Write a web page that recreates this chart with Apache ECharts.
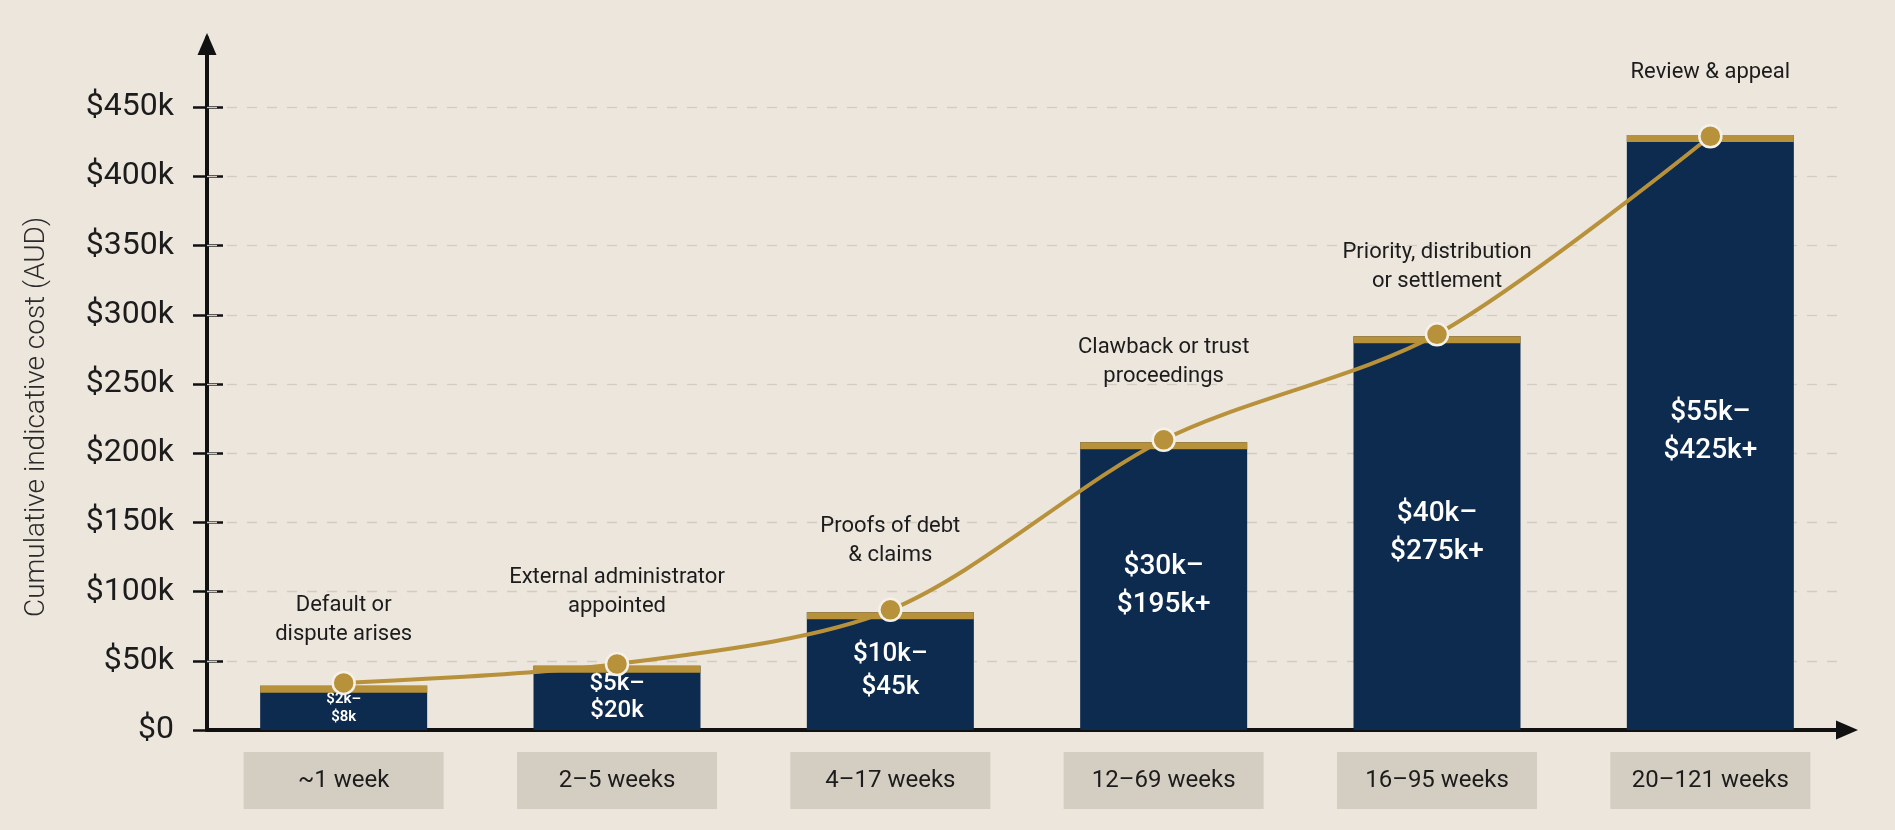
<!DOCTYPE html>
<html>
<head>
<meta charset="utf-8">
<script src="https://cdn.jsdelivr.net/npm/echarts@6/dist/echarts.min.js"></script>
<style>
  html, body { margin: 0; padding: 0; background: #ece6dd; }
  #chart { width: 1895px; height: 830px; }
</style>
</head>
<body>
<div id="chart"></div>
<script>
// ---- data ----
const categories = ['~1 week', '2–5 weeks', '4–17 weeks', '12–69 weeks', '16–95 weeks', '20–121 weeks'];
const stages = [
  'Default or\ndispute arises',
  'External administrator\nappointed',
  'Proofs of debt\n& claims',
  'Clawback or trust\nproceedings',
  'Priority, distribution\nor settlement',
  'Review & appeal'
];
const barValues = [32000, 46500, 85000, 208000, 284500, 430000];
const pointValues = [34000, 47700, 86800, 209700, 285900, 429000];
const rangeLow = ['$2k', '$5k', '$10k', '$30k', '$40k', '$55k'];
const rangeHigh = ['$8k', '$20k', '$45k', '$195k+', '$275k+', '$425k+'];
const yTicks = [0, 50000, 100000, 150000, 200000, 250000, 300000, 350000, 400000, 450000];
const yTickLabels = ['$0', '$50k', '$100k', '$150k', '$200k', '$250k', '$300k', '$350k', '$400k', '$450k'];
const yAxisTitle = 'Cumulative indicative cost (AUD)';

// ---- styles ----
const NAVY = '#0d2a4f';
const GOLD = '#b8913b';
const INK = '#1c1c1c';
const FONT = 'Roboto, "Liberation Sans", Arial, sans-serif';
const barLabelSize = [15, 24, 26, 28, 28, 28];
const barLabelLH = [18, 27, 33, 38, 38, 38];
const stageDistance = [22, 31, 28, 37, 26, 37];

const chart = echarts.init(document.getElementById('chart'));

const yCommon = { type: 'value', min: 0, max: 500000, interval: 50000, position: 'left' };

chart.setOption({
  backgroundColor: '#ece6dd',
  animation: false,
  grid: { left: 207, right: 48, top: 38, bottom: 100, containLabel: false },
  xAxis: [{
    type: 'category',
    data: categories,
    boundaryGap: true,
    axisLine: { show: true, lineStyle: { color: '#111', width: 4 }, symbol: ['none', 'triangle'], symbolSize: [19, 22] },
    axisTick: { show: false },
    splitLine: { show: false },
    axisLabel: {
      margin: 22,
      color: INK,
      fontFamily: FONT,
      fontSize: 24,
      backgroundColor: '#d4cdc2',
      width: 200,
      height: 57,
      lineHeight: 57,
      align: 'center',
      interval: 0
    }
  }],
  yAxis: [
    Object.assign({}, yCommon, {
      axisLine: { show: true, lineStyle: { color: '#111', width: 4 }, symbol: ['none', 'triangle'], symbolSize: [19, 22], symbolOffset: [0, -6] },
      axisTick: { show: true, length: 14, customValues: yTicks, lineStyle: { color: '#111', width: 2.5 } },
      axisLabel: {
        customValues: yTicks,
        margin: 33,
        color: INK,
        fontFamily: FONT,
        fontSize: 32,
        formatter: function (v) { const i = yTicks.indexOf(v); return i >= 0 ? yTickLabels[i] : ''; }
      },
      splitLine: { show: false }
    }),
    Object.assign({}, yCommon, {
      axisLine: { show: false },
      axisTick: { show: true, inside: true, length: 16, customValues: yTicks, lineStyle: { color: '#111', width: 2.5 } },
      axisLabel: { show: false },
      splitLine: { show: false }
    })
  ],
  graphic: [{
    type: 'text',
    x: 37,
    y: 417,
    rotation: Math.PI / 2,
    style: {
      text: yAxisTitle,
      fill: '#2a2a2a',
      font: '300 28px ' + FONT,
      textAlign: 'center',
      textVerticalAlign: 'middle'
    }
  }],
  series: [
    {
      type: 'bar',
      name: 'cost',
      data: barValues.map((v, i) => ({
        value: v,
        label: { fontSize: barLabelSize[i], lineHeight: barLabelLH[i], fontWeight: i === 0 ? 600 : 500 }
      })),
      barWidth: 167,
      itemStyle: { color: NAVY },
      z: 2,
      label: {
        show: true,
        position: 'inside',
        color: '#ffffff',
        fontFamily: FONT,
        formatter: p => rangeLow[p.dataIndex] + '–\n' + rangeHigh[p.dataIndex]
      },
      markLine: {
        silent: true,
        symbol: 'none',
        z: 1,
        label: { show: false },
        lineStyle: { color: '#d3ccc2', width: 1.3, type: [10, 10] },
        data: yTicks.filter(v => v > 0).map(v => ({ yAxis: v }))
      }
    },
    {
      type: 'pictorialBar',
      name: 'cap',
      data: barValues,
      symbol: 'rect',
      symbolSize: [167, 7],
      symbolPosition: 'end',
      itemStyle: { color: GOLD },
      z: 3
    },
    {
      type: 'line',
      name: 'trend',
      data: pointValues.map((v, i) => ({ value: v, label: { distance: stageDistance[i] } })),
      smooth: 0.3,
      symbol: 'circle',
      symbolSize: 22,
      lineStyle: { color: GOLD, width: 4 },
      itemStyle: { color: GOLD, borderColor: '#f6f1e8', borderWidth: 2.5 },
      z: 4,
      label: {
        show: true,
        position: 'top',
        color: INK,
        fontFamily: FONT,
        fontSize: 22,
        lineHeight: 29,
        align: 'center',
        formatter: p => stages[p.dataIndex]
      }
    }
  ]
});
</script>
</body>
</html>
